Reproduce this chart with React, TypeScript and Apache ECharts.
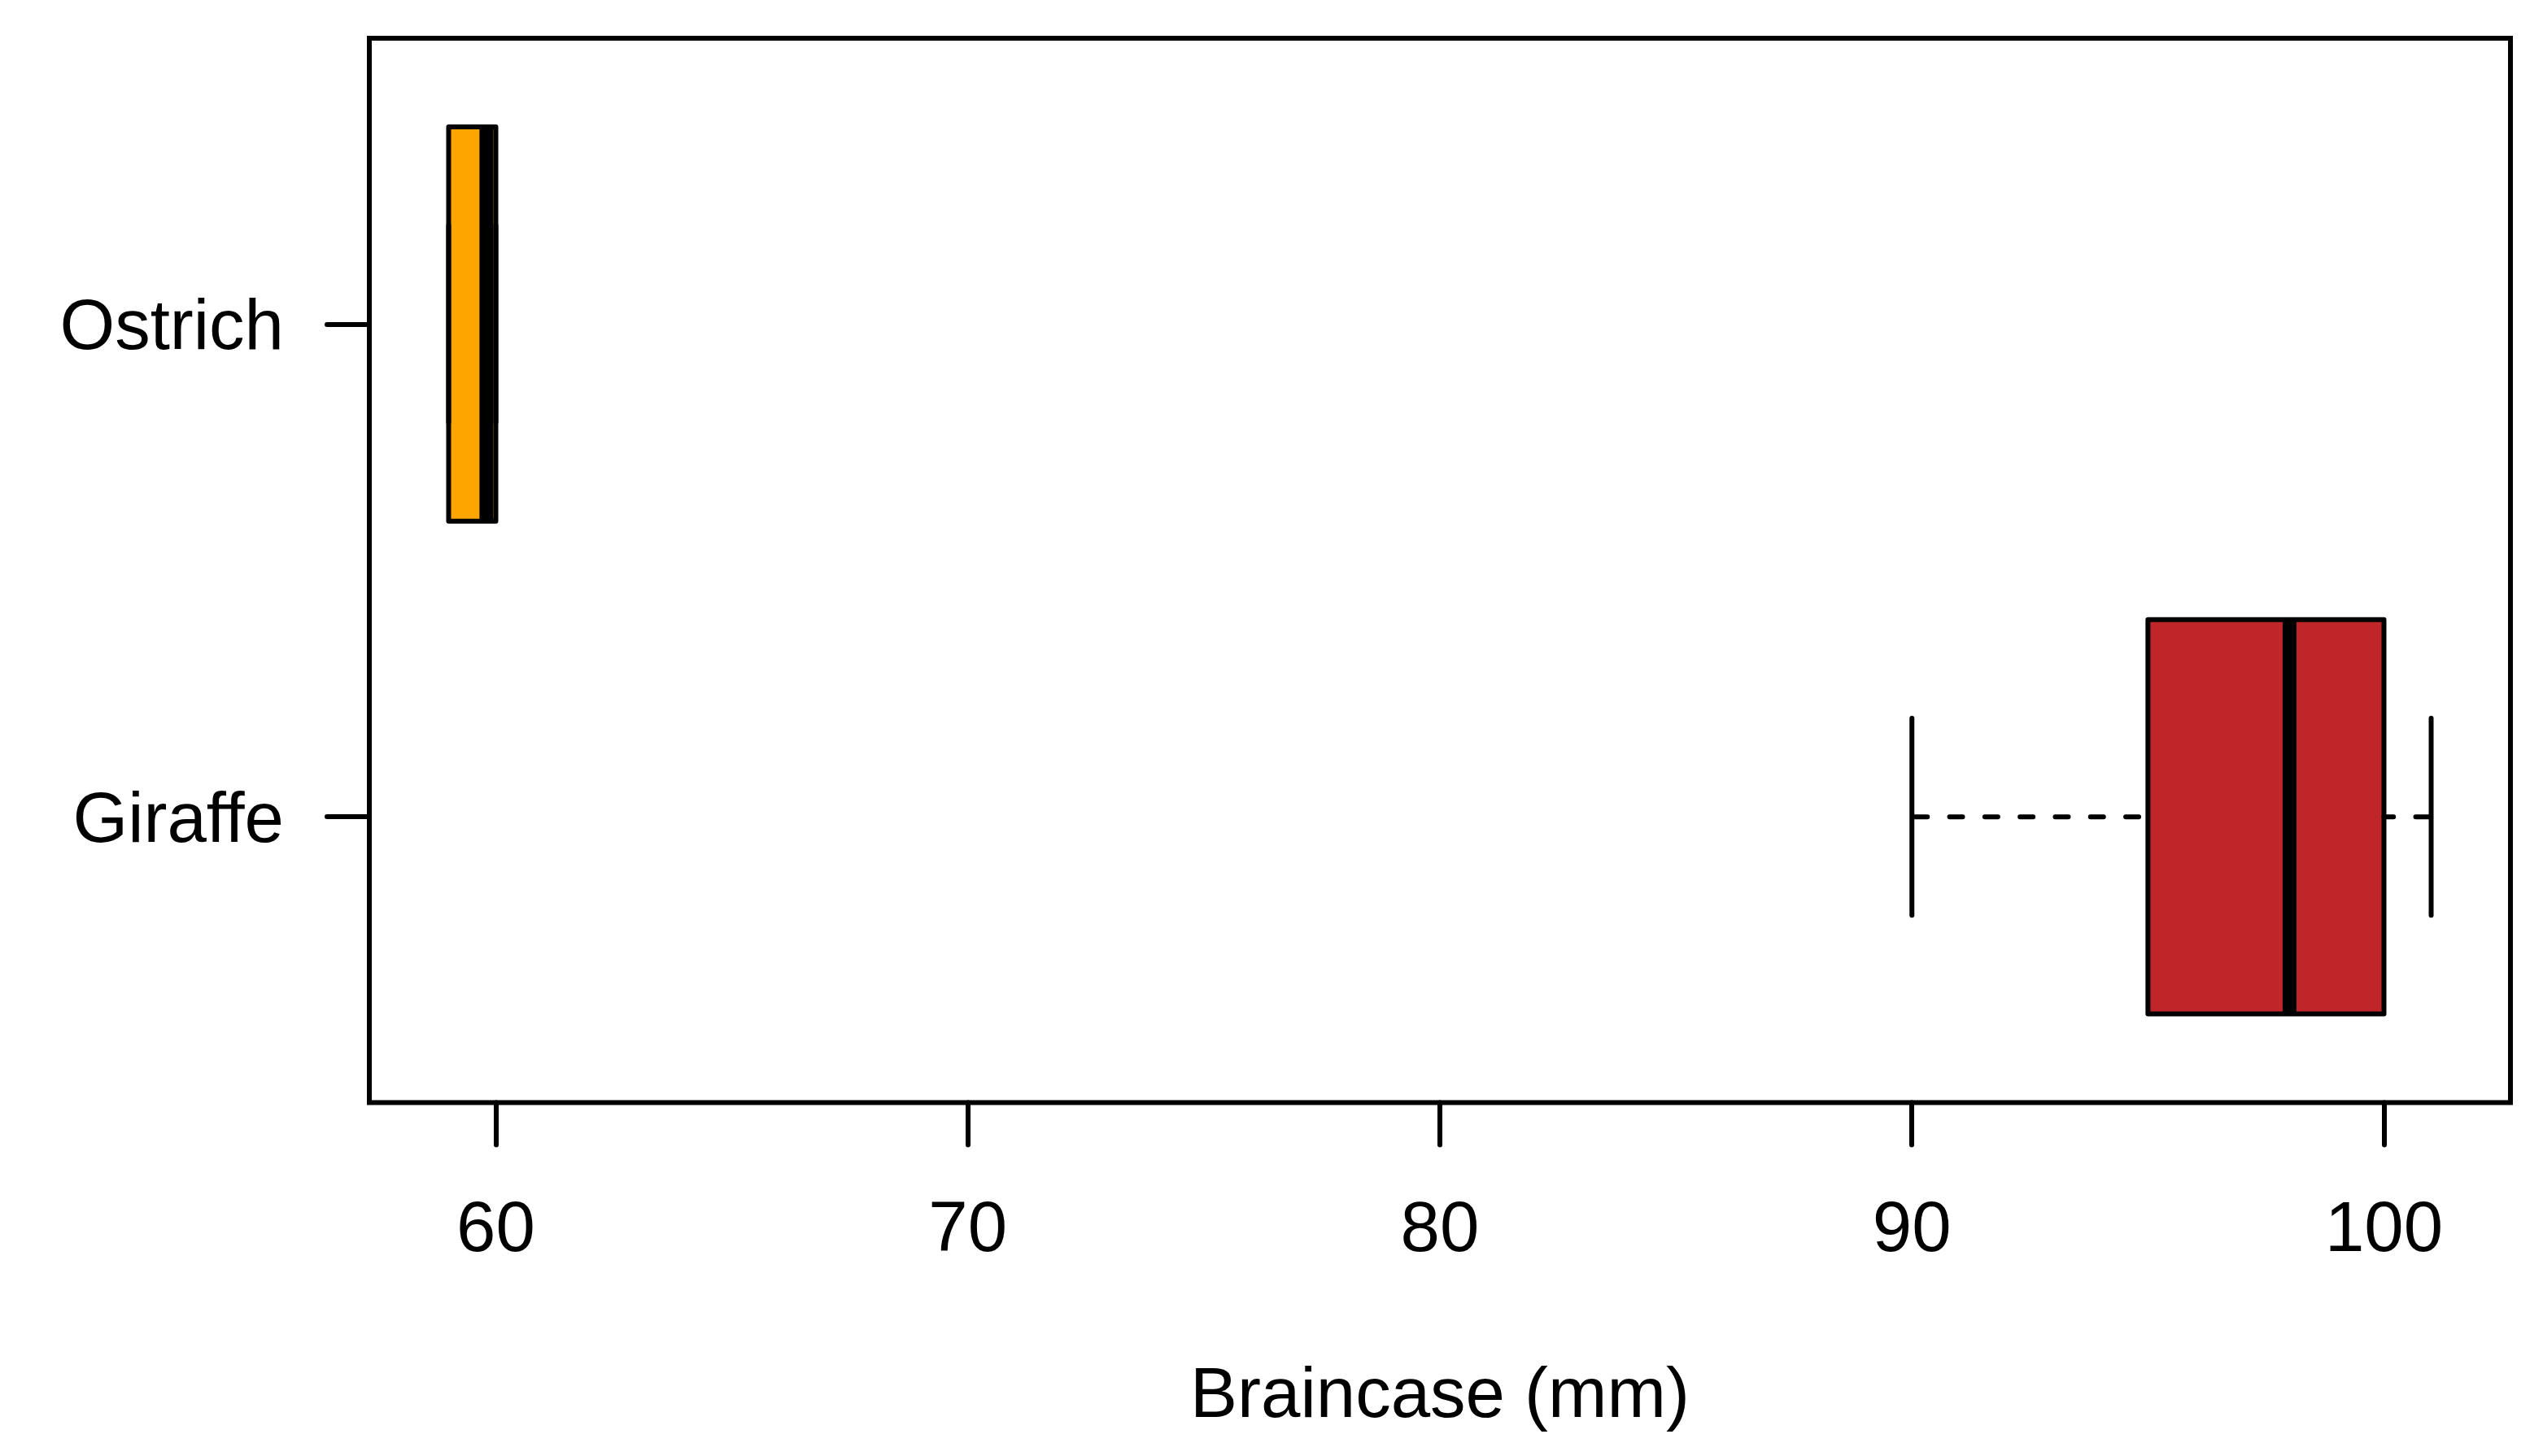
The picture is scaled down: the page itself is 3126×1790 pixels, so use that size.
import React, { useEffect, useRef } from "react";
import * as echarts from "echarts";

// ---- Data ----
const categories = ["Giraffe", "Ostrich"]; // bottom to top
const positions = [1, 2];
const whiskerLow = [90, 59];
const quartile1 = [95, 59];
const medians = [98, 59.8];
const quartile3 = [100, 60];
const whiskerHigh = [101, 60];
const boxColors = ["#BF2629", "#FFA500"];
const xTicks = [60, 70, 80, 90, 100];
const xTitle = "Braincase (mm)";

const FONT = "'Liberation Sans', Arial, Helvetica, sans-serif";
const LW = 6;

export default function App() {
  const ref = useRef<HTMLDivElement>(null);

  useEffect(() => {
    if (!ref.current) return;
    const chart = echarts.init(ref.current, undefined, { renderer: "svg" });

    const data = categories.map((_, i) => [
      positions[i],
      whiskerLow[i],
      quartile1[i],
      medians[i],
      quartile3[i],
      whiskerHigh[i],
      i,
    ]);

    // R-style axis expansion (4%)
    const allVals = [...whiskerLow, ...whiskerHigh];
    const lo = Math.min(...allVals);
    const hi = Math.max(...allVals);
    const ext = (hi - lo) * 0.04;
    const yLo = Math.min(...positions) - 0.5;
    const yHi = Math.max(...positions) + 0.5;
    const yExt = (yHi - yLo) * 0.04;

    const renderItem = (params: any, api: any) => {
      const y = api.value(0);
      const idx = api.value(6);
      const pMin = api.coord([api.value(1), y]);
      const pQ1 = api.coord([api.value(2), y]);
      const pMed = api.coord([api.value(3), y]);
      const pQ3 = api.coord([api.value(4), y]);
      const pMax = api.coord([api.value(5), y]);
      const yc = pMed[1];
      const halfBox = api.size([0, 0.8])[1] / 2;
      const halfStaple = api.size([0, 0.4])[1] / 2;
      const dash = { lineWidth: LW, stroke: "#000", lineDash: [16, 27.3], lineDashOffset: -3, lineCap: "round" };
      const solid = { lineWidth: LW, stroke: "#000", lineCap: "round" };
      return {
        type: "group",
        children: [
          {
            type: "rect",
            shape: { x: pQ1[0], y: yc - halfBox, width: pQ3[0] - pQ1[0], height: halfBox * 2 },
            style: { fill: boxColors[idx], stroke: null },
          },
          {
            type: "line",
            shape: { x1: pMed[0], y1: yc - halfBox, x2: pMed[0], y2: yc + halfBox },
            style: { stroke: "#000", lineWidth: 17, lineCap: "butt" },
          },
          {
            type: "line",
            shape: { x1: pMin[0], y1: yc, x2: pQ1[0], y2: yc },
            style: dash,
          },
          {
            type: "line",
            shape: { x1: pMax[0], y1: yc, x2: pQ3[0], y2: yc },
            style: dash,
          },
          {
            type: "line",
            shape: { x1: pMin[0], y1: yc - halfStaple, x2: pMin[0], y2: yc + halfStaple },
            style: solid,
          },
          {
            type: "line",
            shape: { x1: pMax[0], y1: yc - halfStaple, x2: pMax[0], y2: yc + halfStaple },
            style: solid,
          },
          {
            type: "rect",
            shape: { x: pQ1[0], y: yc - halfBox, width: pQ3[0] - pQ1[0], height: halfBox * 2 },
            style: { fill: null, stroke: "#000", lineWidth: LW, lineJoin: "round" },
          },
        ],
      };
    };

    chart.setOption({
      animation: false,
      backgroundColor: "#fff",
      grid: {
        left: 454,
        right: 40,
        top: 47,
        bottom: 434.5,
        show: true,
        borderColor: "#000",
        borderWidth: LW,
        backgroundColor: "transparent",
      },
      xAxis: {
        type: "value",
        min: lo - ext,
        max: hi + ext,
        name: xTitle,
        nameLocation: "middle",
        nameGap: 312,
        nameTextStyle: { fontSize: 87, color: "#000", fontFamily: FONT },
        axisLine: { show: false, onZero: false },
        splitLine: { show: false },
        axisTick: {
          show: true,
          inside: false,
          length: 52,
          customValues: xTicks,
          lineStyle: { color: "#000", width: LW, cap: "round" },
        },
        axisLabel: {
          customValues: xTicks,
          margin: 108,
          fontSize: 87,
          color: "#000",
          fontFamily: FONT,
        },
      },
      yAxis: {
        type: "value",
        min: yLo - yExt,
        max: yHi + yExt,
        axisLine: { show: false, onZero: false },
        splitLine: { show: false },
        axisTick: {
          show: true,
          inside: false,
          length: 52,
          customValues: positions,
          lineStyle: { color: "#000", width: LW, cap: "round" },
        },
        axisLabel: {
          customValues: positions,
          margin: 105,
          fontSize: 87,
          color: "#000",
          fontFamily: FONT,
          formatter: (v: number) => {
            const i = positions.indexOf(Math.round(v));
            return i >= 0 ? categories[i] : "";
          },
        },
      },
      series: [
        {
          type: "custom",
          renderItem,
          data,
          encode: { x: [1, 2, 3, 4, 5], y: 0 },
          clip: false,
        },
      ],
    });

    return () => {
      chart.dispose();
    };
  }, []);

  return (
    <div
      ref={ref}
      style={{ position: "fixed", left: 0, top: 0, width: 3126, height: 1790, background: "#fff" }}
    />
  );
}
